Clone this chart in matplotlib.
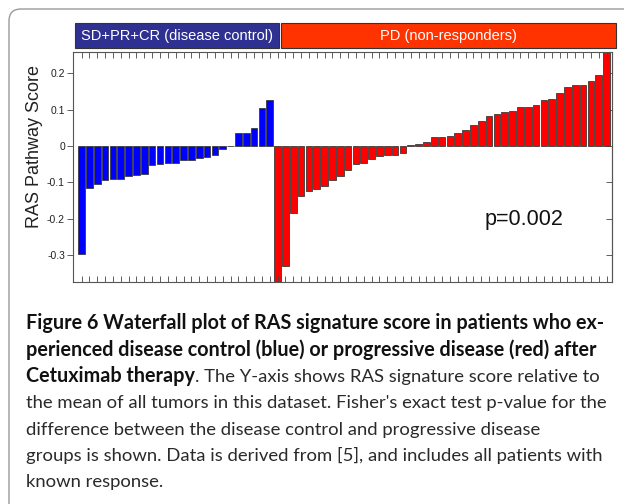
import numpy as np
import matplotlib
matplotlib.use('Agg')
import matplotlib.pyplot as plt
from matplotlib.patches import Rectangle, FancyBboxPatch
from matplotlib.transforms import IdentityTransform

# RAS pathway score per patient, sorted within each group
control_scores = [-0.297, -0.117, -0.105, -0.095, -0.092, -0.092, -0.084, -0.079,
                  -0.077, -0.052, -0.050, -0.046, -0.046, -0.039, -0.039, -0.032,
                  -0.029, -0.025, -0.009, 0.0, 0.037, 0.037, 0.050, 0.105, 0.126]
pd_scores = [-0.40, -0.330, -0.185, -0.139, -0.124, -0.118, -0.110, -0.094,
             -0.084, -0.066, -0.050, -0.048, -0.037, -0.028, -0.024, -0.024,
             -0.018, 0.002, 0.006, 0.012, 0.024, 0.024, 0.028, 0.035, 0.045,
             0.057, 0.070, 0.084, 0.088, 0.094, 0.096, 0.108, 0.108, 0.112,
             0.126, 0.129, 0.146, 0.164, 0.167, 0.169, 0.178, 0.195, 0.28]
group_labels = ['SD+PR+CR (disease control)', 'PD (non-responders)']
yticks = [-0.3, -0.2, -0.1, 0, 0.1, 0.2]
ytick_labels = ['-0.3', '-0.2', '-0.1', '0', '0.1', '0.2']
p_label = 'p=0.002'

caption = [
    ('Figure 6 Waterfall plot of RAS signature score in patients who ex-', ''),
    ('perienced disease control (blue) or progressive disease (red) after', ''),
    ('Cetuximab therapy', '. The Y-axis shows RAS signature score relative to'),
    ('', "the mean of all tumors in this dataset. Fisher's exact test p-value for the"),
    ('', 'difference between the disease control and progressive disease'),
    ('', 'groups is shown. Data is derived from [5], and includes all patients with'),
    ('', 'known response.'),
]

W, H = 624, 504
fig = plt.figure(figsize=(W / 100, H / 100), dpi=100)
arial = 'Liberation Sans'

# outer rounded frame
fig.add_artist(FancyBboxPatch((9, -30), 700, H - 9 + 30,
                              boxstyle='round,pad=0,rounding_size=12',
                              transform=IdentityTransform(), fill=False,
                              edgecolor='#9a9a9a', linewidth=1.0))

ax = fig.add_axes([73.3 / W, 1 - 281.7 / H, 538.2 / W, 230 / H])
n_ctrl = len(control_scores)
x_ctrl = np.arange(n_ctrl)
x_pd = np.arange(len(pd_scores)) + n_ctrl
ax.bar(x_ctrl, control_scores, width=0.85, color='#0000ff',
       edgecolor='#3a3a3a', linewidth=0.6)
ax.bar(x_pd, pd_scores, width=0.85, color='#ff0000',
       edgecolor='#3a3a3a', linewidth=0.6)
ax.set_xlim(-1.065, n_ctrl + len(pd_scores) - 0.38)
ax.set_ylim(-0.374, 0.26)

ax.set_xticks(np.arange(n_ctrl + len(pd_scores)))
ax.tick_params(axis='x', direction='in', top=True, bottom=True, length=4,
               width=0.6, color='#444444', labelbottom=False)
ax.set_yticks(yticks)
ax.set_yticklabels(ytick_labels, fontsize=7.5, family=arial, color='#222222')
ax.tick_params(axis='y', direction='out', length=4, width=0.6, color='#444444', pad=2)
sec = ax.secondary_yaxis('right')
sec.set_yticks(yticks)
sec.tick_params(direction='in', length=4, width=0.6, color='#444444', labelright=False)
sec.spines['right'].set_color('#555555')
for s in ax.spines.values():
    s.set_color('#555555')
    s.set_linewidth(0.8)

fig.text(35 / W, 1 - 146.5 / H, 'RAS Pathway Score', rotation=90, ha='center',
         va='center', fontsize=13, family=arial, color='#222222')
fig.text(485 / W, 1 - 219 / H, p_label, va='center', ha='left', fontsize=15.5,
         family=arial, color='#111111')

# group header boxes
boxes = [(75, 279, '#2e3192'), (281, 616, '#ff3300')]
for (x0, x1, c), lab in zip(boxes, group_labels):
    fig.add_artist(Rectangle((x0 / W, 1 - 48 / H), (x1 - x0) / W, 24.5 / H,
                             transform=fig.transFigure, facecolor=c,
                             edgecolor='#333333', linewidth=0.8))
    fig.text((x0 + x1) / 2 / W, 1 - 36 / H, lab, ha='center', va='center',
             color='white', fontsize=10.5, family=arial)

# caption
renderer = fig.canvas.get_renderer()
baselines = [329, 355.5, 382, 408, 434.5, 461, 487.5]
for (bold, normal), yb in zip(caption, baselines):
    x = 26
    if bold:
        t = fig.text(x / W, 1 - yb / H, bold, fontsize=14.2, family='Lato',
                     fontweight='bold', color='#111111', va='baseline')
        x = t.get_window_extent(renderer).x1
    if normal:
        fig.text(x / W, 1 - yb / H, normal, fontsize=13.3, family='Lato',
                 color='#2a2a2a', va='baseline')

fig.savefig('out.png', dpi=100)
